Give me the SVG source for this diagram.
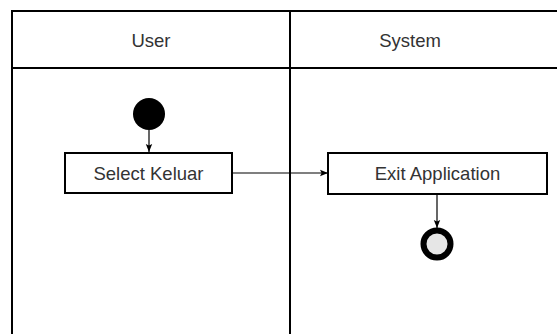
<svg xmlns="http://www.w3.org/2000/svg" width="557" height="334" viewBox="0 0 557 334">
<style>
.lane{fill:none;stroke:#000;stroke-width:2}
.box{fill:#fff;stroke:#000;stroke-width:2}
.t{font-family:"Liberation Sans",Arial,sans-serif;font-size:18.5px;fill:#333;text-anchor:middle}
.c{fill:none;stroke:#000;stroke-width:1.2}
</style>
<defs>
<marker id="ah" viewBox="0 0 10 10" refX="10" refY="5" markerWidth="8" markerHeight="8" markerUnits="userSpaceOnUse" orient="auto">
<path d="M0,1 L10,5 L0,9 L2,5 Z" fill="#000"/>
</marker>
</defs>
<rect width="557" height="334" fill="#fff"/>
<g id="lane-user">
<path class="lane" d="M12,340 V11 H290 V340"/>
<line class="lane" x1="12" y1="68" x2="290" y2="68"/>
<text class="t" x="151" y="47">User</text>
</g>
<g id="lane-system">
<path class="lane" d="M290,11 H565"/>
<line class="lane" x1="290" y1="68" x2="565" y2="68"/>
<text class="t" x="410" y="47">System</text>
</g>
<g id="connectors">
<line class="c" x1="149" y1="130" x2="149" y2="152" marker-end="url(#ah)"/>
<line class="c" x1="232" y1="173" x2="328" y2="173" marker-end="url(#ah)"/>
<line class="c" x1="437" y1="194" x2="437" y2="228" marker-end="url(#ah)"/>
</g>
<g id="start">
<circle cx="149" cy="114" r="16" fill="#000"/>
</g>
<g id="select-keluar">
<rect class="box" x="65" y="153" width="167" height="40"/>
<text class="t" x="148.5" y="179.5">Select Keluar</text>
</g>
<g id="exit-application">
<rect class="box" x="328" y="153" width="219" height="41"/>
<text class="t" x="437.5" y="179.5">Exit Application</text>
</g>
<g id="end">
<circle cx="437" cy="244" r="13.5" fill="#e6e6e6" stroke="#000" stroke-width="6"/>
</g>
</svg>
